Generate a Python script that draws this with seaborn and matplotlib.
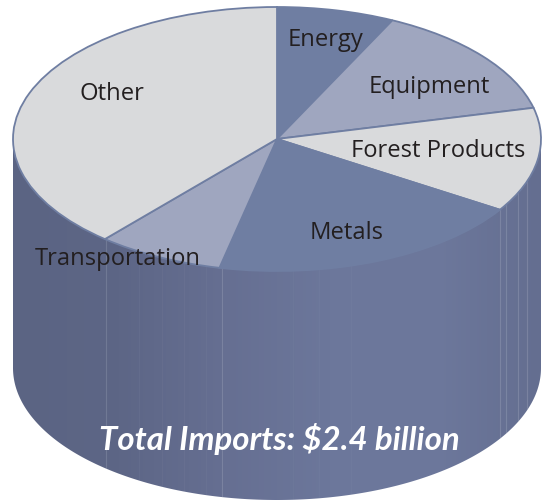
'''
Total imports cylinder pie chart
'''

# Import the following
import numpy as np
import matplotlib.pyplot as plt
from matplotlib.patches import Polygon
import seaborn as sns

# Chart values, share of total imports in percent
categories = ['Energy', 'Equipment', 'Forest Products', 'Metals', 'Transportation', 'Other']
shares = [7.2, 14.0, 12.8, 19.5, 7.8, 38.7]
slice_colors = ['#6f7ea2', '#9fa6bf', '#d9dadc', '#6f7ea2', '#9fa6bf', '#d9dadc']
title_text = 'Total Imports: $2.4 billion'

sns.set_theme(style='white')
plt.rcParams['font.family'] = ['Open Sans', 'DejaVu Sans']

# Pixel geometry of the top ellipse
width, height = 546, 500
cx, cy, rx, ry = 277, 139, 264, 132
depth = 229 / ry


def to_x(px):
    return (px - cx) / rx


def to_y(py):
    return (cy - py) / ry


fig = plt.figure(figsize=(width / 100, height / 100), dpi=100)
ax = fig.add_axes([0, 0, 1, 1])

# Side wall of the cylinder, clipped to its outline
theta = np.linspace(np.pi, 2 * np.pi, 300)
outline = np.vstack([
    np.column_stack([np.cos(theta), np.sin(theta) - depth]),
    np.column_stack([np.cos(theta[::-1]), np.sin(theta[::-1])]),
])
wall = Polygon(outline, closed=True, facecolor='none', edgecolor='none')
ax.add_patch(wall)

wall_colors = sns.blend_palette(['#5b6483', '#5d6686', '#666f92', '#6c779b', '#6d789c', '#646e90'], 256)
gradient = np.array(wall_colors)[np.newaxis, :, :]
image = ax.imshow(gradient, extent=(-1, 1, -1 - depth, 0.2), aspect='auto', zorder=1)
image.set_clip_path(wall)

# Seams between wall panels
for px, alpha in [(106, 0.2), (139, 0.05), (162, 0.05), (184, 0.05), (206, 0.05), (222, 0.22),
                  (293, 0.04), (319, 0.04), (351, 0.04), (500, 0.22), (506, 0.22), (518, 0.22), (527, 0.22)]:
    seam = ax.axvline(to_x(px), color='#c5cad8', lw=0.8, alpha=alpha, zorder=2)
    seam.set_clip_path(wall)

# Top of the cylinder
wedges, _ = ax.pie(shares, colors=slice_colors, startangle=90, counterclock=False, radius=1,
                   wedgeprops={'edgecolor': '#6f7ea2', 'linewidth': 1.3, 'zorder': 3})

# pie() forces equal aspect, squash it to the ellipse and go back to pixel extents
ax.set_aspect('auto')
ax.set_xlim(to_x(0), to_x(width))
ax.set_ylim(to_y(height), to_y(0))
ax.axis('off')

# Slice labels, positions in picture pixels
label_pos = [(325, 40), (429, 87), (438, 151), (347, 233), (118, 259), (112, 94)]
for name, (px, py) in zip(categories, label_pos):
    ax.text(to_x(px), to_y(py), name, ha='center', va='center', fontsize=17.1,
            color='#231f20', zorder=5)

ax.text(to_x(279), to_y(439), title_text, ha='center', va='center', fontsize=23.8,
        fontweight='bold', fontstyle='italic', family=['Lato', 'DejaVu Sans'],
        color='white', zorder=5)

plt.savefig('out.png', dpi=100)
